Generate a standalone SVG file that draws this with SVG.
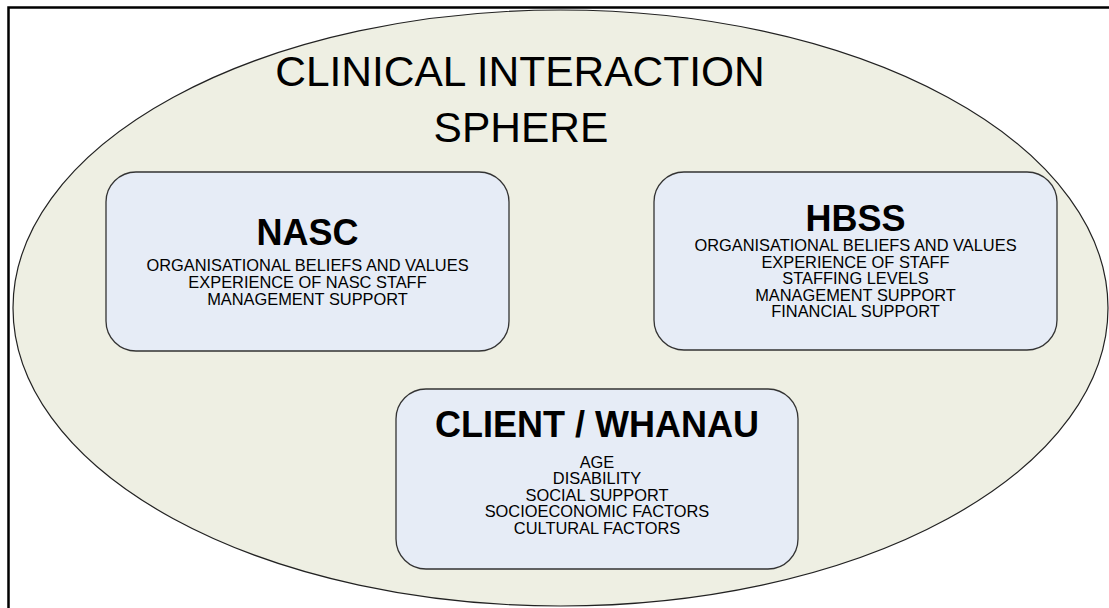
<svg xmlns="http://www.w3.org/2000/svg" width="1109" height="608" viewBox="0 0 1109 608">
  <style>
    .frame { fill: none; stroke: #000; stroke-width: 2.5; }
    .sphere { fill: #EEEFE3; stroke: #222; stroke-width: 1.2; }
    .box { fill: #E6ECF6; stroke: #333; stroke-width: 1.3; }
    .title { font-family: "Liberation Sans", Arial, sans-serif; font-size: 42.5px; fill: #000; text-anchor: middle; }
    .head { font-family: "Liberation Sans", Arial, sans-serif; font-size: 36px; font-weight: bold; fill: #000; text-anchor: middle; }
    .item { font-family: "Liberation Sans", Arial, sans-serif; font-size: 16.4px; fill: #000; text-anchor: middle; }
  </style>

  <rect x="0" y="0" width="1109" height="608" fill="#fff"/>

  <!-- page frame (top and left edges visible) -->
  <path class="frame" d="M8.5 608 V7.5 H1109"/>

  <!-- outer sphere -->
  <g id="sphere">
    <ellipse class="sphere" cx="560.5" cy="308" rx="547.5" ry="298"/>
    <text class="title" x="520" y="86">CLINICAL INTERACTION</text>
    <text class="title" x="521" y="142">SPHERE</text>
  </g>

  <!-- NASC -->
  <g id="nasc">
    <rect class="box" x="106" y="172" width="403" height="179" rx="30" ry="30"/>
    <text class="head" x="307.5" y="245">NASC</text>
    <text class="item" x="307.5" y="271">ORGANISATIONAL BELIEFS AND VALUES</text>
    <text class="item" x="307.5" y="288">EXPERIENCE OF NASC STAFF</text>
    <text class="item" x="307.5" y="305">MANAGEMENT SUPPORT</text>
  </g>

  <!-- HBSS -->
  <g id="hbss">
    <rect class="box" x="654" y="172" width="403" height="178" rx="30" ry="30"/>
    <text class="head" x="855.5" y="231">HBSS</text>
    <text class="item" x="855.5" y="251">ORGANISATIONAL BELIEFS AND VALUES</text>
    <text class="item" x="855.5" y="267.5">EXPERIENCE OF STAFF</text>
    <text class="item" x="855.5" y="284">STAFFING LEVELS</text>
    <text class="item" x="855.5" y="300.5">MANAGEMENT SUPPORT</text>
    <text class="item" x="855.5" y="317">FINANCIAL SUPPORT</text>
  </g>

  <!-- CLIENT / WHANAU -->
  <g id="client">
    <rect class="box" x="396" y="389" width="402" height="180" rx="30" ry="30"/>
    <text class="head" x="597" y="437">CLIENT / WHANAU</text>
    <text class="item" x="597" y="467.5">AGE</text>
    <text class="item" x="597" y="484">DISABILITY</text>
    <text class="item" x="597" y="500.5">SOCIAL SUPPORT</text>
    <text class="item" x="597" y="517">SOCIOECONOMIC FACTORS</text>
    <text class="item" x="597" y="534">CULTURAL FACTORS</text>
  </g>

  <!-- no connectors in this diagram -->
  <g id="connectors"/>
</svg>
